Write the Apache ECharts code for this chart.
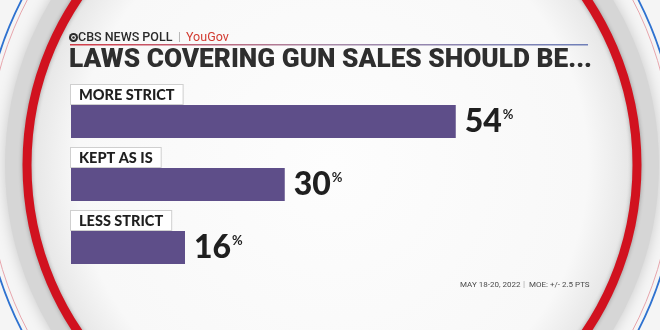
<!DOCTYPE html>
<html><head><meta charset="utf-8">
<script src="https://cdn.jsdelivr.net/npm/echarts@6/dist/echarts.min.js"></script>
<style>html,body{margin:0;padding:0;background:#f2f2f2}#c{width:660px;height:330px}</style>
</head><body><div id="c"></div>
<script>
const categories = ['MORE STRICT', 'KEPT AS IS', 'LESS STRICT'];
const values = [54, 30, 16];
const titleText = 'LAWS COVERING GUN SALES SHOULD BE...';
const sourceText = 'CBS NEWS POLL';
const partnerText = 'YouGov';
const dateText = 'MAY 18-20, 2022';
const moeText = 'MOE: +/- 2.5 PTS';

const chart = echarts.init(document.getElementById('c'));
const F = 'Lato, "Open Sans", sans-serif';
const R = 'Roboto, "Open Sans", sans-serif';
chart.setOption({
  backgroundColor: '#f5f5f5',
  animation: false,
  graphic: [
    {type:'ellipse', z:0, shape:{cx:332, cy:165, rx:318, ry:314}, style:{fill:'none', stroke:'#d6d6d6', lineWidth:18, shadowBlur:14, shadowColor:'rgba(0,0,0,0.18)'}},
    {type:'ellipse', z:0, shape:{cx:332, cy:165, rx:305, ry:301},
      style:{fill:new echarts.graphic.RadialGradient(0.5,0.5,0.5,[{offset:0,color:'#fdfdfd'},{offset:0.85,color:'#f8f8f8'},{offset:1,color:'#e6e6e6'}])}},
    {type:'ellipse', z:1, shape:{cx:332, cy:165, rx:305, ry:301}, style:{fill:'none', stroke:'#d1121f', lineWidth:9, shadowBlur:4, shadowColor:'rgba(0,0,0,0.3)'}},
    {type:'ellipse', z:1, shape:{cx:330, cy:165, rx:348, ry:356}, style:{fill:'none', stroke:'#2f72d0', lineWidth:1.8}},
    {type:'ellipse', z:1, shape:{cx:330, cy:165, rx:343, ry:351}, style:{fill:'none', stroke:'#e8a6ad', lineWidth:1}},
    {type:'circle', z:5, shape:{cx:73.5, cy:37.5, r:4.5}, style:{fill:'#2a2a2a'}},
    {type:'circle', z:6, shape:{cx:73.5, cy:37.5, r:2.4}, style:{fill:'#f7f7f7'}},
    {type:'circle', z:7, shape:{cx:73.5, cy:37.5, r:1.3}, style:{fill:'#2a2a2a'}},
    {type:'text', z:5, x:78, y:31, style:{text:sourceText, fill:'#2a2a2a', font:'500 12.5px ' + R}},
    {type:'text', z:5, x:178, y:31, style:{text:'|', fill:'#b0b0b0', font:'11px sans-serif'}},
    {type:'text', z:5, x:186, y:31, style:{text:partnerText, fill:'#d23a30', font:'12.5px ' + R}},
    {type:'rect', z:5, shape:{x:70, y:44, width:518, height:1.5}, style:{fill:new echarts.graphic.LinearGradient(0,0,1,0,[{offset:0,color:'#d23b46'},{offset:0.5,color:'#a88aa8'},{offset:1,color:'#6f7fb8'}])}},
    {type:'text', z:5, x:69, y:47, scaleX:1.01, style:{text:titleText, fill:'#2e2e2e', font:'900 26px ' + R}},
    {type:'text', z:5, x:460, y:281, style:{text:dateText, fill:'#4a4a4a', font:'8px ' + R}},
    {type:'text', z:5, x:523, y:280, style:{text:'|', fill:'#aaa', font:'8px sans-serif'}},
    {type:'text', z:5, x:529, y:281, style:{text:moeText, fill:'#4a4a4a', font:'8px ' + R}}
  ],
  grid: {left:71, right:19, top:90, bottom:51},
  xAxis: {type:'value', min:0, max:80, show:false},
  yAxis: {type:'category', inverse:true, data:categories, show:false},
  series: [
    {type:'bar', z:3, data:values, barWidth:33, itemStyle:{color:'#5e4e89'},
     label:{show:true, position:'right', distance:9,
       formatter: p => '{v|' + p.value + '}{p|%}',
       rich:{v:{fontFamily:F, fontWeight:900, fontSize:32, color:'#1f1f1f'},
             p:{fontFamily:F, fontWeight:700, fontSize:13, color:'#1f1f1f', padding:[0,0,14,1]}}}},
    {type:'bar', z:4, data:values, barWidth:33, barGap:'-100%', itemStyle:{color:'rgba(0,0,0,0)'},
     label:{show:true, position:[0,-20], formatter: p => p.name,
       fontFamily:F, fontWeight:900, fontSize:14.5, color:'#1f1f1f', backgroundColor:'#ffffff',
       borderColor:'#cfcfcf', borderWidth:1, padding:[3,8,1,8]}}
  ]
});
</script></body></html>
